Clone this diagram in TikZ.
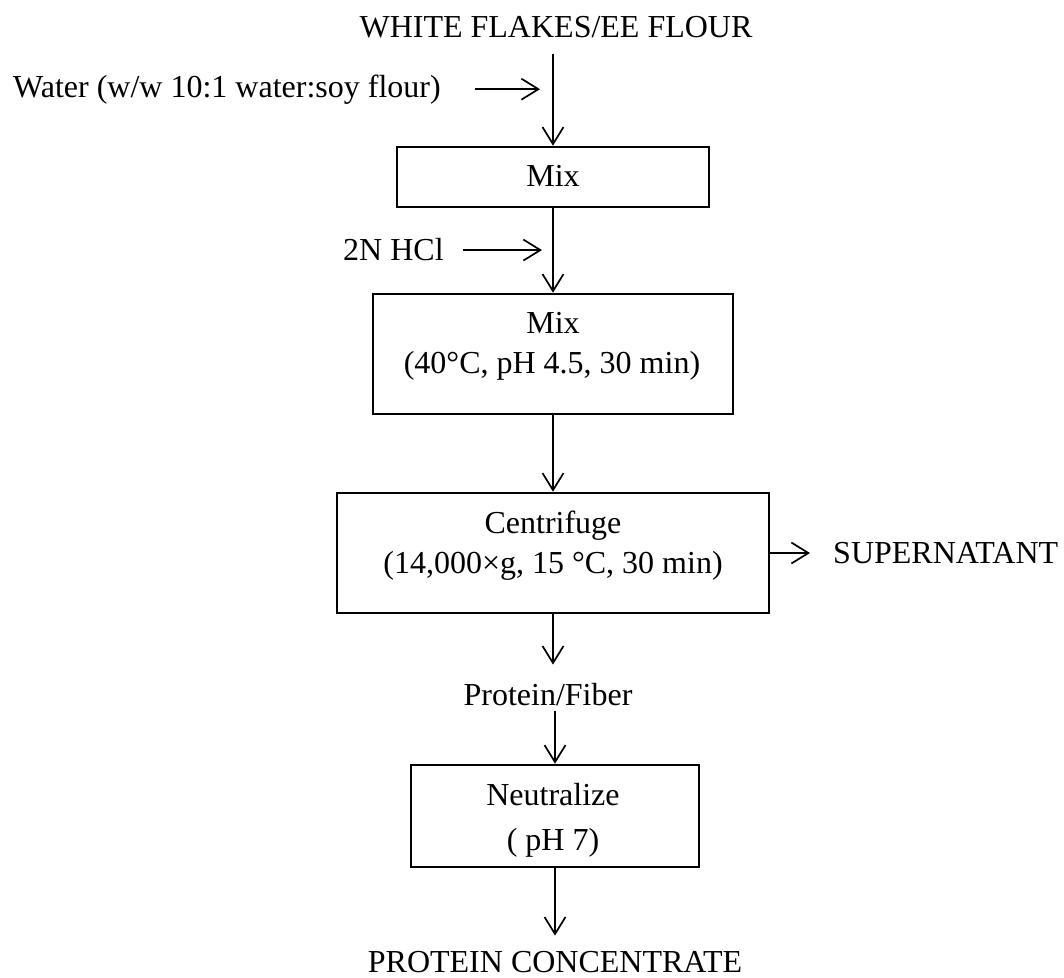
\documentclass[tikz,border=0pt]{standalone}
\usepackage{fontspec}
\setmainfont{Liberation Serif}
\usetikzlibrary{arrows.meta}
\begin{document}
\begin{tikzpicture}[x=1pt,y=-1pt,
  font=\fontsize{32}{40}\selectfont,
  txt/.style={inner sep=0pt,anchor=base},
  txtw/.style={inner sep=0pt,anchor=base west},
  procbox/.style={draw,line width=2.6pt,rectangle,inner sep=0pt},
  arr/.style={line width=1.7pt,-{Straight Barb[length=17pt,width=21pt,line width=1.7pt]}}]
\useasboundingbox (0,0) rectangle (1064,977);
% text labels
\node[txt] (title) at (556,37) {WHITE FLAKES/EE FLOUR};
\node[txtw] (water) at (13,97) {Water (w/w 10:1 water:soy flour)};
\node[txtw] (hcl) at (343,260) {2N HCl};
\node[txtw] (sup) at (833,563) {SUPERNATANT};
\node[txt] (pf) at (548,705) {Protein/Fiber};
\node[txt] (out) at (555,972) {PROTEIN CONCENTRATE};
% boxes
\node[procbox,minimum width=312pt,minimum height=60pt] (b1) at (553,177) {};
\node[txt] (b1t) at (553,186) {Mix};
\node[procbox,minimum width=360pt,minimum height=120pt] (b2) at (553,354) {};
\node[txt] (b2t) at (553,333) {Mix};
\node[txt] (b2u) at (552,373) {(40°C, pH 4.5, 30 min)};
\node[procbox,minimum width=432pt,minimum height=120pt] (b3) at (553,553) {};
\node[txt] (b3t) at (553,533) {Centrifuge};
\node[txt] (b3u) at (553,573) {(14,000×g, 15 °C, 30 min)};
\node[procbox,minimum width=288pt,minimum height=102pt] (b4) at (555,816) {};
\node[txt] (b4t) at (553,805) {Neutralize};
\node[txt] (b4u) at (553,850) {( pH 7)};
% connectors
\draw[arr] ([yshift=-16pt]title.south -| b1.north) -- (b1.north);
\draw[arr] ([xshift=34pt]water.east) -- ([xshift=-13pt]water.east -| b1.north);
\draw[arr] (b1.south) -- (b2.north);
\draw[arr] ([xshift=19pt,yshift=-1pt]hcl.east) -- ([xshift=-11pt,yshift=-1pt]hcl.east -| b1.south);
\draw[arr] (b2.south) -- (b3.north);
\draw[arr,shorten >=23pt] (b3.east) -- (b3.east -| sup.west);
\draw[arr] (b3.south) -- ([yshift=18pt]pf.north -| b3.south);
\draw[arr,shorten <=5pt] (pf.south -| b4.north) -- (b4.north);
\draw[arr] (b4.south) -- ([yshift=15pt]out.north -| b4.south);
\end{tikzpicture}
\end{document}
